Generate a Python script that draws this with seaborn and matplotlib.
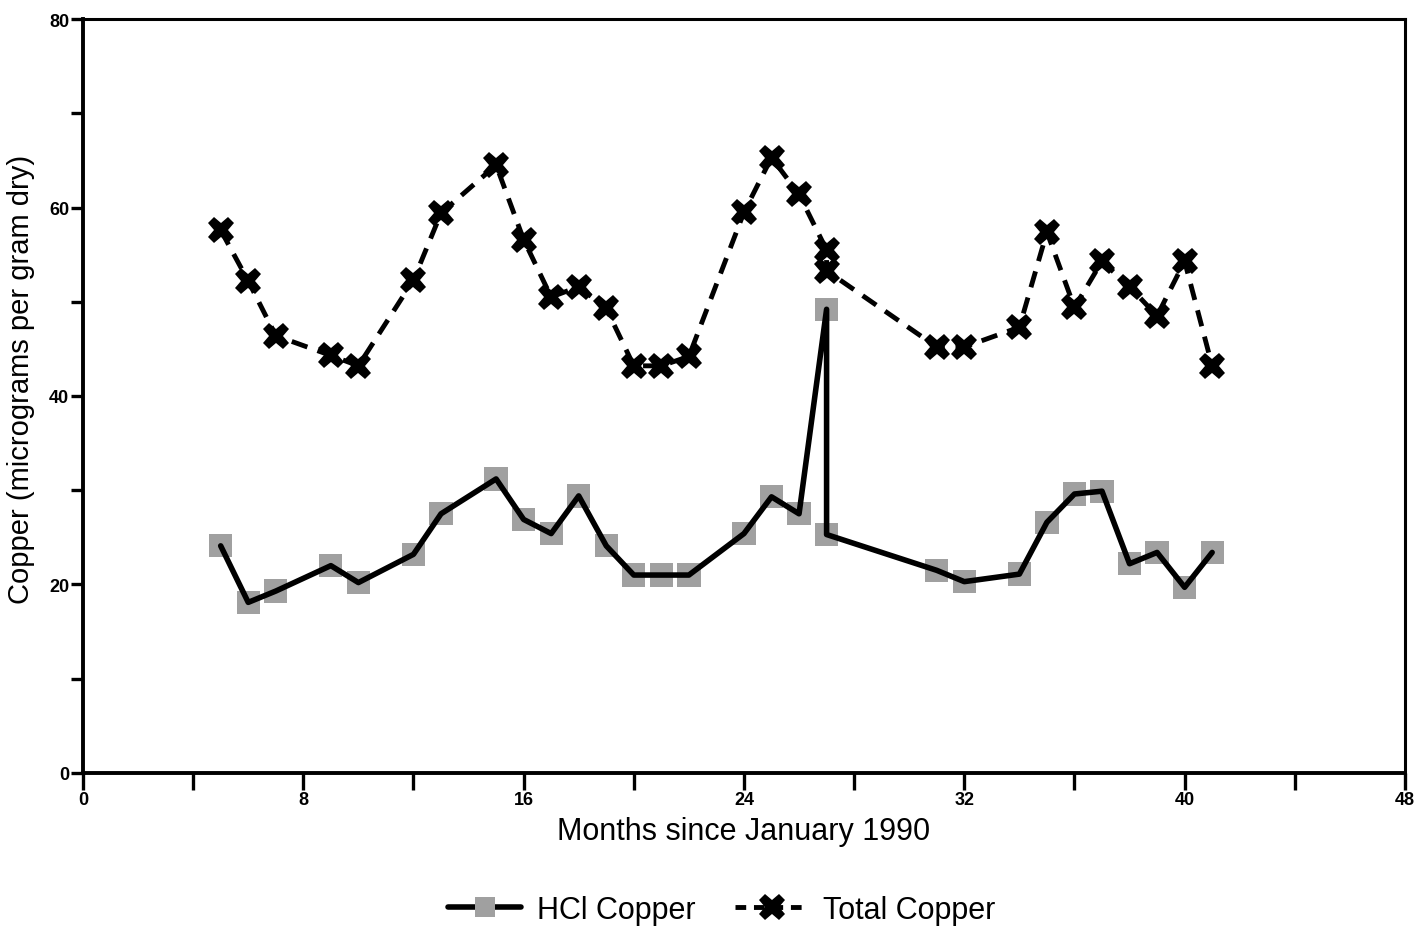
import matplotlib
matplotlib.use("Agg")
import matplotlib.pyplot as plt
from matplotlib.lines import Line2D
from matplotlib.ticker import MultipleLocator
import seaborn as sns
import pandas as pd

months = [5, 6, 7, 9, 10, 12, 13, 15, 16, 17, 18, 19, 20, 21, 22,
          24, 25, 26, 27, 27, 31, 32, 34, 35, 36, 37, 38, 39, 40, 41]
hcl_copper = [24.1, 18.1, 19.3, 22.0, 20.2, 23.2, 27.5, 31.2, 26.9, 25.4,
              29.4, 24.1, 21.0, 21.0, 21.0, 25.4, 29.3, 27.5, 49.2, 25.3,
              21.5, 20.3, 21.1, 26.6, 29.6, 29.9, 22.2, 23.4, 19.7, 23.4]
total_copper = [57.6, 52.2, 46.4, 44.3, 43.2, 52.3, 59.4, 64.5, 56.6, 50.5,
                51.6, 49.3, 43.2, 43.2, 44.2, 59.5, 65.3, 61.4, 55.5, 53.3,
                45.2, 45.2, 47.3, 57.4, 49.4, 54.3, 51.6, 48.5, 54.3, 43.2]
series_names = ["HCl Copper", "Total Copper"]
x_ticks = [0, 8, 16, 24, 32, 40, 48]
y_ticks = [0, 20, 40, 60, 80]

df = pd.DataFrame({"month": months, "hcl": hcl_copper, "total": total_copper})

sns.set_theme(style="ticks")
plt.rcParams["font.family"] = ["Liberation Sans", "DejaVu Sans"]
for key in ["text.color", "axes.labelcolor", "xtick.color", "ytick.color", "axes.edgecolor"]:
    plt.rcParams[key] = "black"

fig = plt.figure(figsize=(14.21, 9.45), dpi=100)
ax = fig.add_axes([0.0584, 0.181, 0.9303, 0.7978])

GREY = "#a0a0a0"
# HCl copper: grey square markers beneath a solid black line
sns.scatterplot(data=df, x="month", y="hcl", ax=ax, marker="s", s=280,
                color=GREY, edgecolor="none", linewidth=0, zorder=2)
sns.lineplot(data=df, x="month", y="hcl", ax=ax, sort=False, estimator=None,
             color="black", linewidth=4, zorder=3)

# Total copper: dashed black line with X markers
sns.lineplot(data=df, x="month", y="total", ax=ax, sort=False, estimator=None,
             color="black", linewidth=3.5, linestyle=(0, (3.4, 2.2)),
             marker="X", markersize=19, markeredgewidth=0,
             markerfacecolor="black", zorder=4)

ax.set_xlim(0, 48)
ax.set_ylim(0, 80)
ax.set_xticks(x_ticks)
ax.set_yticks(y_ticks)
ax.xaxis.set_minor_locator(MultipleLocator(4))
ax.yaxis.set_minor_locator(MultipleLocator(10))
ax.tick_params(axis="both", which="both", direction="out", color="black",
               width=2.4, labelsize=13, pad=1)
ax.tick_params(axis="x", which="both", length=12)
ax.tick_params(axis="y", which="both", length=9)
for lbl in ax.get_xticklabels() + ax.get_yticklabels():
    lbl.set_fontweight("bold")

for side in ["left", "right", "top", "bottom"]:
    ax.spines[side].set_visible(True)
    ax.spines[side].set_color("black")
ax.spines["left"].set_linewidth(2.8)
ax.spines["bottom"].set_linewidth(2.8)
ax.spines["top"].set_linewidth(2.2)
ax.spines["right"].set_linewidth(2.2)

ax.set_xlabel("Months since January 1990", fontsize=22, labelpad=6)
ax.set_ylabel("Copper (micrograms per gram dry)", fontsize=21, labelpad=10)
ax.yaxis.label.set_y(0.523)

handles = [
    Line2D([0], [0], color="black", linewidth=4, marker="s", markersize=15,
           markerfacecolor=GREY, markeredgewidth=0),
    Line2D([0], [0], color="black", linewidth=3.5, linestyle=(0, (2.2, 1.6)),
           marker="X", markersize=19, markeredgewidth=0, markerfacecolor="black"),
]
fig.legend(handles, series_names, loc="center", bbox_to_anchor=(0.508, 0.036),
           ncol=2, frameon=False, fontsize=22, handlelength=2.4,
           columnspacing=1.3, handletextpad=0.5)

fig.savefig("out.png", dpi=100, facecolor="white")
